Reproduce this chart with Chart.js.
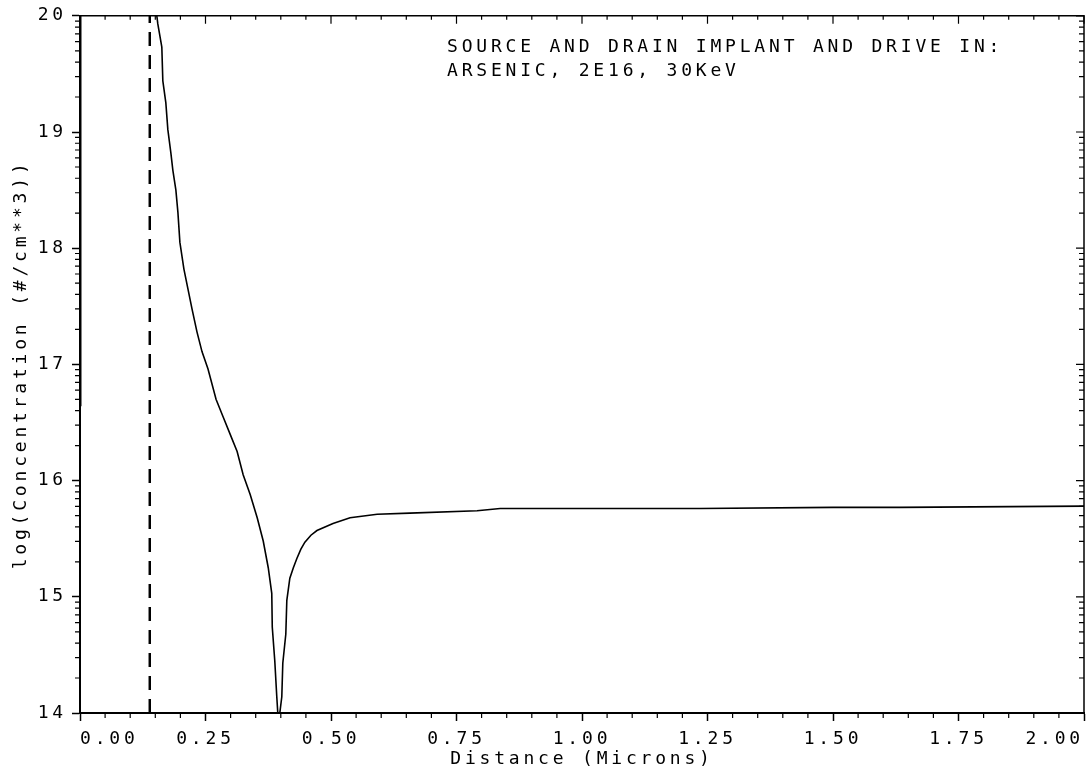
<!DOCTYPE html>
<html>
<head>
<meta charset="utf-8">
<script src="https://cdn.jsdelivr.net/npm/chart.js@4.4.1/dist/chart.umd.min.js"></script>
<style>
  html, body { margin: 0; padding: 0; background: #fff; }
  #wrap { width: 1092px; height: 782px; }
</style>
</head>
<body>
<div id="wrap"><canvas id="profile_chart"></canvas></div>
<script>
// arsenic profile after S/D implant and drive-in
var distance = [0.150, 0.153, 0.155, 0.163, 0.165, 0.171, 0.175, 0.181, 0.185, 0.191,
  0.195, 0.199, 0.207, 0.215, 0.223, 0.233, 0.243, 0.255, 0.271, 0.285,
  0.299, 0.313, 0.325, 0.339, 0.353, 0.365, 0.375, 0.382, 0.383, 0.388,
  0.392, 0.394, 0.396, 0.398, 0.402, 0.404, 0.410, 0.412, 0.418, 0.425,
  0.432, 0.440, 0.448, 0.460, 0.472, 0.504, 0.538, 0.592, 0.657, 0.791,
  0.837, 1.000, 1.235, 1.500, 1.633, 2.000];
var logConc = [20.30, 20.00, 19.93, 19.73, 19.44, 19.25, 19.02, 18.82, 18.67, 18.50,
  18.31, 18.05, 17.82, 17.65, 17.48, 17.28, 17.11, 16.96, 16.70, 16.55,
  16.40, 16.25, 16.05, 15.88, 15.68, 15.48, 15.25, 15.03, 14.74, 14.45,
  14.14, 14.00, 13.60, 14.00, 14.14, 14.43, 14.68, 14.97, 15.16, 15.25,
  15.33, 15.41, 15.47, 15.53, 15.57, 15.63, 15.68, 15.71, 15.72, 15.74,
  15.76, 15.76, 15.76, 15.77, 15.77, 15.78];

// oxide edge trace at the surface
var surfaceX = [0.0, 0.0];
var surfaceY = [20.0, 16.64];

// dashed marker line
var markerX = [0.139, 0.139];
var markerY = [14, 20];

var xTicks = [0.00, 0.25, 0.50, 0.75, 1.00, 1.25, 1.50, 1.75, 2.00];
var yTicks = [14, 15, 16, 17, 18, 19, 20];

var noteLines = ['SOURCE AND DRAIN IMPLANT AND DRIVE IN:', 'ARSENIC, 2E16, 30KeV'];
var xTitle = 'Distance (Microns)';
var yTitle = 'log(Concentration (#/cm**3))';

function toPoints(xs, ys) {
  return xs.map(function (v, i) { return { x: v, y: ys[i] }; });
}

var FONT = 'DejaVu Sans Mono';
var SPACING = '3.8px';

var plotterText = {
  id: 'plotterText',
  beforeLayout: function (chart) { chart.ctx.letterSpacing = SPACING; },
  beforeDraw: function (chart) { chart.ctx.letterSpacing = SPACING; },
  afterDraw: function (chart) {
    var ctx = chart.ctx, a = chart.chartArea;
    ctx.save();
    ctx.letterSpacing = SPACING;
    ctx.fillStyle = '#000';
    ctx.font = '18px "' + FONT + '"';
    ctx.textAlign = 'left';
    ctx.textBaseline = 'alphabetic';
    noteLines.forEach(function (s, i) {
      ctx.fillText(s, a.left + 367, a.top + 36 + i * 24);
    });
    ctx.restore();
  }
};

// frame, inner ticks on top/right and minor ticks everywhere
var frameTicks = {
  id: 'frameTicks',
  afterDraw: function (chart) {
    var ctx = chart.ctx, a = chart.chartArea;
    var xs = chart.scales.x, ys = chart.scales.y;
    ctx.save();
    ctx.strokeStyle = '#000';
    ctx.lineWidth = 1.5;
    ctx.beginPath();
    ctx.moveTo(a.left, a.top); ctx.lineTo(a.right, a.top); ctx.lineTo(a.right, a.bottom);
    ctx.stroke();

    ctx.lineWidth = 1.2;
    ctx.beginPath();
    for (var k = 0; k <= 40; k++) {
      var v = k * 0.05;
      var px = xs.getPixelForValue(v);
      var major = (k % 5 === 0);
      ctx.moveTo(px, a.top); ctx.lineTo(px, a.top + (major ? 8 : 4));
      if (!major) { ctx.moveTo(px, a.bottom); ctx.lineTo(px, a.bottom + 5); }
    }
    for (var n = ys.min; n <= ys.max; n++) {
      var py = ys.getPixelForValue(n);
      ctx.moveTo(a.right, py); ctx.lineTo(a.right - 8, py);
      for (var m = 2; m <= 9; m++) {
        var lv = n + Math.log10(m);
        if (lv >= ys.max) continue;
        var q = ys.getPixelForValue(lv);
        ctx.moveTo(a.right, q); ctx.lineTo(a.right - 5, q);
        ctx.moveTo(a.left, q); ctx.lineTo(a.left - 5, q);
      }
    }
    ctx.stroke();
    ctx.restore();
  }
};

var ctx = document.getElementById('profile_chart').getContext('2d');

var profileChart = new Chart(ctx, {
  type: 'scatter',
  data: {
    datasets: [{
      label: 'Arsenic',
      data: toPoints(distance, logConc),
      showLine: true,
      borderColor: '#000',
      borderWidth: 1.6,
      pointRadius: 0,
      tension: 0
    }, {
      label: 'surface',
      data: toPoints(surfaceX, surfaceY),
      showLine: true,
      borderColor: '#000',
      borderWidth: 3,
      pointRadius: 0
    }, {
      label: 'marker',
      data: toPoints(markerX, markerY),
      showLine: true,
      borderColor: '#000',
      borderWidth: 2.5,
      borderDash: [14, 9],
      pointRadius: 0
    }]
  },
  options: {
    responsive: true,
    maintainAspectRatio: false,
    animation: false,
    layout: { padding: { top: 12, right: 7, left: 0, bottom: 0 } },
    plugins: {
      legend: { display: false },
      tooltip: { enabled: false }
    },
    scales: {
      x: {
        type: 'linear',
        min: 0,
        max: 2,
        afterBuildTicks: function (scale) {
          scale.ticks = xTicks.map(function (v) { return { value: v }; });
        },
        afterFit: function (scale) { scale.height = 69; },
        ticks: {
          align: 'inner',
          color: '#000',
          padding: 8,
          maxRotation: 0,
          font: { family: FONT, size: 18 },
          callback: function (v) { return v.toFixed(2); }
        },
        grid: { drawOnChartArea: false, tickLength: 8, tickWidth: 1.5, tickColor: '#000' },
        border: { color: '#000', width: 2 },
        title: {
          display: true,
          text: xTitle,
          color: '#000',
          font: { family: FONT, size: 18 },
          padding: { top: 0, bottom: 12 }
        }
      },
      y: {
        type: 'linear',
        min: 14,
        max: 20,
        afterBuildTicks: function (scale) {
          scale.ticks = yTicks.map(function (v) { return { value: v }; });
        },
        afterFit: function (scale) { scale.width = 80; },
        ticks: {
          color: '#000',
          padding: 5,
          font: { family: FONT, size: 18 },
          callback: function (v) { return String(v); }
        },
        grid: { drawOnChartArea: false, tickLength: 8, tickWidth: 1.5, tickColor: '#000' },
        border: { color: '#000', width: 2 },
        title: {
          display: true,
          text: yTitle,
          color: '#000',
          font: { family: FONT, size: 18 },
          padding: { top: 11, bottom: 0 }
        }
      }
    }
  },
  plugins: [plotterText, frameTicks]
});
</script>
</body>
</html>
